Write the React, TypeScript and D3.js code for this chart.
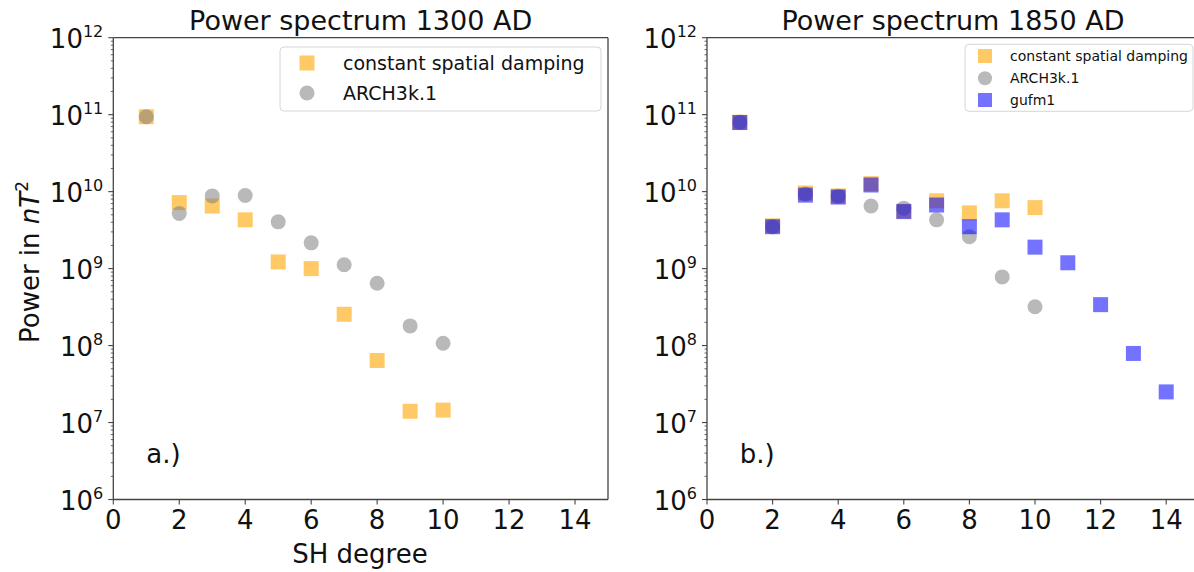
import React from "react";
import * as d3 from "d3";

// ---------- data ----------
const degreesA = [1, 2, 3, 4, 5, 6, 7, 8, 9, 10];
const dampingA = [9.4e10, 7.2e9, 6.5e9, 4.3e9, 1.22e9, 1.0e9, 2.55e8, 6.4e7, 1.4e7, 1.45e7];
const archA = [9.4e10, 5.2e9, 8.8e9, 8.9e9, 4.05e9, 2.16e9, 1.12e9, 6.45e8, 1.8e8, 1.07e8];

const degreesB = [1, 2, 3, 4, 5, 6, 7, 8, 9, 10];
const dampingB = [8.0e10, 3.6e9, 9.6e9, 8.8e9, 1.27e10, 5.6e9, 7.6e9, 5.3e9, 7.6e9, 6.2e9];
const archB = [8.0e10, 3.5e9, 9.3e9, 8.7e9, 6.5e9, 6.1e9, 4.3e9, 2.6e9, 7.8e8, 3.2e8];
const degreesGufm = [1, 2, 3, 4, 5, 6, 7, 8, 9, 10, 11, 12, 13, 14];
const gufmB = [7.9e10, 3.5e9, 9.0e9, 8.5e9, 1.22e10, 5.5e9, 6.7e9, 3.5e9, 4.3e9, 1.9e9, 1.19e9, 3.4e8, 7.9e7, 2.5e7];

const xTicks = [0, 2, 4, 6, 8, 10, 12, 14];
const yExponents = [6, 7, 8, 9, 10, 11, 12];

const titles = ["Power spectrum 1300 AD", "Power spectrum 1850 AD"];
const panelTags = ["a.)", "b.)"];
const legendLabels = ["constant spatial damping", "ARCH3k.1", "gufm1"];

// ---------- style ----------
const FONT = "DejaVu Sans, Liberation Sans, sans-serif";
const ORANGE = "rgba(255,165,0,0.6)";
const GREY = "rgba(128,128,128,0.55)";
const BLUE = "rgba(0,0,255,0.55)";
const SPINE = "#444";
const TOP = 37.7;
const BOTTOM = 499.5;
const MS = 15; // marker size

type Series = { kind: "square" | "circle"; color: string; xs: number[]; ys: number[] };

function Marker({ kind, color, cx, cy, size }: { kind: string; color: string; cx: number; cy: number; size: number }) {
  if (kind === "square") {
    return <rect x={cx - size / 2} y={cy - size / 2} width={size} height={size} fill={color} />;
  }
  return <circle cx={cx} cy={cy} r={size / 2} fill={color} />;
}

function Panel({
  left,
  right,
  title,
  tag,
  series,
  legend,
}: {
  left: number;
  right: number;
  title: string;
  tag: string;
  series: Series[];
  legend: { x: number; y: number; w: number; h: number; mx: number; tx: number; rows: number[]; font: number; ms: number; items: { label: string; kind: string; color: string }[] };
}) {
  const x = d3.scaleLinear().domain([0, 15]).range([left, right]);
  const y = d3.scaleLog().domain([1e6, 1e12]).range([BOTTOM, TOP]);
  const minor: number[] = [];
  for (let e = 6; e < 12; e++) for (let m = 2; m <= 9; m++) minor.push(m * Math.pow(10, e));
  const clipId = "clip" + Math.round(left);
  return (
    <g>
      <defs>
        <clipPath id={clipId}>
          <rect x={left} y={TOP} width={right - left} height={BOTTOM - TOP} />
        </clipPath>
      </defs>
      <text x={(left + right) / 2} y={29.5} textAnchor="middle" fontSize={27} fontFamily={FONT} fill="#111">
        {title}
      </text>
      <g clipPath={`url(#${clipId})`}>
        {series.map((s, si) =>
          s.xs.map((d, i) => (
            <Marker key={si + "-" + i} kind={s.kind} color={s.color} cx={x(d)} cy={y(s.ys[i])} size={MS} />
          ))
        )}
      </g>
      {/* legend */}
      <rect x={legend.x} y={legend.y} width={legend.w} height={legend.h} rx={4} fill="rgba(255,255,255,0.8)" stroke="#d6d6d6" strokeWidth={1} />
      {legend.items.map((it, i) => (
        <g key={it.label}>
          <Marker kind={it.kind} color={it.color} cx={legend.mx} cy={legend.rows[i]} size={legend.ms} />
          <text x={legend.tx} y={legend.rows[i]} dy="0.36em" fontSize={legend.font} fontFamily={FONT} fill="#111">
            {it.label}
          </text>
        </g>
      ))}
      <text x={x(1)} y={y(3e6)} fontSize={26} fontFamily={FONT} fill="#111">
        {tag}
      </text>
      {/* spines */}
      <line x1={left} x2={right} y1={TOP} y2={TOP} stroke={SPINE} strokeWidth={1.3} />
      <line x1={left} x2={right} y1={BOTTOM} y2={BOTTOM} stroke={SPINE} strokeWidth={1.3} />
      <line x1={left} x2={left} y1={TOP} y2={BOTTOM} stroke={SPINE} strokeWidth={1.3} />
      <line x1={right} x2={right} y1={TOP} y2={BOTTOM} stroke={SPINE} strokeWidth={1.3} />
      {/* y ticks */}
      {minor.map((v) => (
        <line key={v} x1={left - 2.5} x2={left} y1={y(v)} y2={y(v)} stroke={SPINE} strokeWidth={0.8} />
      ))}
      {yExponents.map((e) => (
        <g key={e}>
          <line x1={left - 5} x2={left} y1={y(Math.pow(10, e))} y2={y(Math.pow(10, e))} stroke={SPINE} strokeWidth={1.1} />
          <text x={left - 10} y={y(Math.pow(10, e))} dy={10.5} textAnchor="end" fontSize={26} fontFamily={FONT} fill="#111">
            10
            <tspan dy={-11.5} fontSize={16}>
              {e}
            </tspan>
          </text>
        </g>
      ))}
      {/* x ticks */}
      {xTicks.map((t) => (
        <g key={t}>
          <line x1={x(t)} x2={x(t)} y1={BOTTOM} y2={BOTTOM + 5} stroke={SPINE} strokeWidth={1.1} />
          <text x={x(t)} y={BOTTOM + 29} textAnchor="middle" fontSize={26} fontFamily={FONT} fill="#111">
            {t}
          </text>
        </g>
      ))}
    </g>
  );
}

export default function App() {
  return (
    <svg width={1194} height={572} style={{ position: "absolute", left: 0, top: 0, background: "#fff" }}>
      <rect width={1194} height={572} fill="#fff" />
      <Panel
        left={113.3}
        right={608}
        title={titles[0]}
        tag={panelTags[0]}
        series={[
          { kind: "square", color: ORANGE, xs: degreesA, ys: dampingA },
          { kind: "circle", color: GREY, xs: degreesA, ys: archA },
        ]}
        legend={{
          x: 280,
          y: 47,
          w: 321,
          h: 64,
          mx: 307,
          tx: 343,
          rows: [63, 93],
          font: 19,
          ms: 15,
          items: [
            { label: legendLabels[0], kind: "square", color: ORANGE },
            { label: legendLabels[1], kind: "circle", color: GREY },
          ],
        }}
      />
      <Panel
        left={707}
        right={1199}
        title={titles[1]}
        tag={panelTags[1]}
        series={[
          { kind: "square", color: ORANGE, xs: degreesB, ys: dampingB },
          { kind: "circle", color: GREY, xs: degreesB, ys: archB },
          { kind: "square", color: BLUE, xs: degreesGufm, ys: gufmB },
        ]}
        legend={{
          x: 965,
          y: 44.3,
          w: 228,
          h: 67,
          mx: 985,
          tx: 1010,
          rows: [56, 78.3, 100],
          font: 14,
          ms: 14,
          items: [
            { label: legendLabels[0], kind: "square", color: ORANGE },
            { label: legendLabels[1], kind: "circle", color: GREY },
            { label: legendLabels[2], kind: "square", color: BLUE },
          ],
        }}
      />
      <text x={360} y={563} textAnchor="middle" fontSize={26} fontFamily={FONT} fill="#111">
        SH degree
      </text>
      <text transform="translate(39,262) rotate(-90)" textAnchor="middle" fontSize={26} fontFamily={FONT} fill="#111">
        Power in <tspan fontStyle="italic">nT</tspan>
        <tspan dy={-11} fontSize={17}>2</tspan>
      </text>
    </svg>
  );
}
